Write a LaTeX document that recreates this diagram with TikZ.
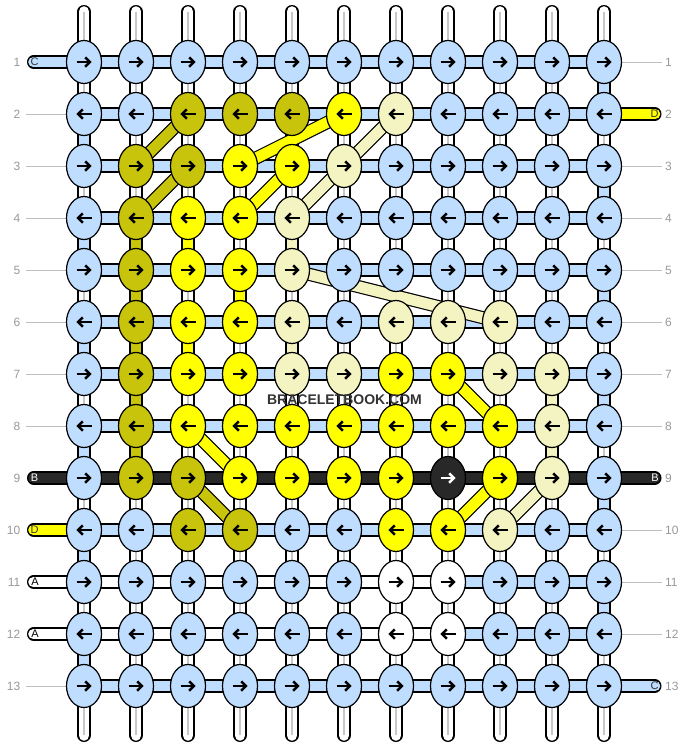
\documentclass[tikz,border=0pt]{standalone}
\usepackage{fontspec}
\setmainfont{Liberation Sans}
\usetikzlibrary{shapes.geometric}
\definecolor{kB}{RGB}{191,221,255}
\definecolor{kO}{RGB}{200,196,12}
\definecolor{kY}{RGB}{255,255,0}
\definecolor{kP}{RGB}{244,243,194}
\definecolor{kW}{RGB}{255,255,255}
\definecolor{kK}{RGB}{40,40,40}
\colorlet{aB}{black}\colorlet{aO}{black}\colorlet{aY}{black}
\colorlet{aP}{black}\colorlet{aW}{black}\colorlet{aK}{white}
\definecolor{lbl}{RGB}{153,153,153}
\definecolor{lline}{RGB}{190,190,190}
\definecolor{wline}{RGB}{200,200,200}
\definecolor{wmark}{RGB}{51,51,51}
\newcommand\band[3]{%
  \draw[line width=13.2pt,black] (#2) -- (#3);
  \draw[line width=10.8pt,#1] (#2) -- (#3);}
\newcommand\stub[3]{%
  \draw[line width=13.2pt,black,line cap=round] (#2) -- (#3);
  \draw[line width=10.8pt,#1,line cap=round] (#2) -- (#3);}
\begin{document}
\begin{tikzpicture}[x=1pt,y=-1pt,
  knot/.style={ellipse,draw=black,line width=1.2pt,minimum width=35pt,minimum height=43pt,inner sep=0pt},
  lab/.style={inner sep=0pt,text=lbl,font=\fontsize{12}{12}\selectfont},
  stubtxt/.style={inner sep=0pt,font=\fontsize{11}{11}\selectfont},
  arrowline/.style={line width=2.5pt}]
\useasboundingbox (0,0) rectangle (688,748);
\fill[white] (0,0) rectangle (688,748);
% coordinates
\foreach \ri in {1,...,13}{
  \foreach \ci in {1,...,11}{
    \coordinate (p-\ri-\ci) at ({84+52*(\ci-1)},{62+52*(\ri-1)});
  }
  \coordinate (gl-\ri) at (26,{62+52*(\ri-1)});
  \coordinate (gr-\ri) at (662,{62+52*(\ri-1)});
  \coordinate (sl-\ri) at (33.6,{62+52*(\ri-1)});
  \coordinate (sr-\ri) at (654.9,{62+52*(\ri-1)});
}
\foreach \ci in {1,...,11}{
  \coordinate (t-\ci) at ({84+52*(\ci-1)},11.6);
  \coordinate (b-\ci) at ({84+52*(\ci-1)},735.4);
}
% gray label lines
\foreach \ri in {2,3,4,5,6,7,8,13}{\draw[lline,line width=1pt] (gl-\ri) -- (p-\ri-1);}
\foreach \ri in {1,3,4,5,6,7,8,10,11,12}{\draw[lline,line width=1pt] (p-\ri-11) -- (gr-\ri);}
% warps
\foreach \ci in {1,...,11}{
  \draw[line cap=round,line width=13.2pt,black] (t-\ci) -- (b-\ci);
  \draw[line cap=round,line width=10.8pt,white] (t-\ci) -- (b-\ci);
  \draw[line width=1.5pt,wline] (t-\ci) -- (b-\ci);
}
% coloured vertical links
\foreach \cl/\ci/\ra/\rb in {kB/1/2/3,kB/1/4/5,kB/1/6/7,kB/1/8/9,kB/1/10/11,kB/1/12/13,
  kB/11/1/2,kB/11/3/4,kB/11/5/6,kB/11/7/8,kB/11/9/10,kB/11/11/12,
  kO/2/4/5,kO/2/5/6,kO/2/6/7,kO/2/7/8,kO/2/8/9,
  kY/3/4/5,kY/4/5/6,kY/3/6/7,
  kP/5/4/5,kP/5/6/7,kP/10/7/8,kP/10/8/9}{
  \band{\cl}{p-\ra-\ci}{p-\rb-\ci}
}
% horizontal links
\foreach \ri in {1,...,13}{\band{kB}{p-\ri-1}{p-\ri-11}}
\band{kK}{p-9-1}{p-9-11}
\band{kW}{p-11-1}{p-11-8}
\band{kW}{p-12-1}{p-12-8}
% stubs
\stub{kB}{sl-1}{p-1-1}
\stub{kK}{sl-9}{p-9-1}
\stub{kY}{sl-10}{p-10-1}
\stub{kW}{sl-11}{p-11-1}
\stub{kW}{sl-12}{p-12-1}
\stub{kY}{sr-2}{p-2-11}
\stub{kK}{sr-9}{p-9-11}
\stub{kB}{sr-13}{p-13-11}
\node[stubtxt,text=wmark] (s1) at (34.5,62) {C};
\node[stubtxt,text=white] (s9) at (34.5,478) {B};
\node[stubtxt,text=wmark] (s10) at (34.5,530) {D};
\node[stubtxt,text=black] (s11) at (35,582) {A};
\node[stubtxt,text=black] (s12) at (35,634) {A};
\node[stubtxt,text=wmark] (s2r) at (654.5,114) {D};
\node[stubtxt,text=white] (s9r) at (655,478) {B};
\node[stubtxt,text=wmark] (s13r) at (654.5,686) {C};
% diagonal strands
\foreach \cl/\pa/\pb in {kO/p-2-3/p-3-2,kO/p-3-3/p-4-2,kO/p-9-3/p-10-4,
  kY/p-2-6/p-3-4,kY/p-3-5/p-4-4,kY/p-8-3/p-9-4,kY/p-7-8/p-8-9,kY/p-9-9/p-10-8,
  kP/p-2-7/p-3-6,kP/p-3-6/p-4-5,kP/p-5-5/p-6-9,kP/p-9-10/p-10-9}{
  \band{\cl}{\pa}{\pb}
}
% knots
\foreach \ri/\row in {
  1/{B,B,B,B,B,B,B,B,B,B,B},
  2/{B,B,O,O,O,Y,P,B,B,B,B},
  3/{B,O,O,Y,Y,P,B,B,B,B,B},
  4/{B,O,Y,Y,P,B,B,B,B,B,B},
  5/{B,O,Y,Y,P,B,B,B,B,B,B},
  6/{B,O,Y,Y,P,B,P,P,P,B,B},
  7/{B,O,Y,Y,P,P,Y,Y,P,P,B},
  8/{B,O,Y,Y,Y,Y,Y,Y,Y,P,B},
  9/{B,O,O,Y,Y,Y,Y,K,Y,P,B},
  10/{B,B,O,O,B,B,Y,Y,P,B,B},
  11/{B,B,B,B,B,B,W,W,B,B,B},
  12/{B,B,B,B,B,B,W,W,B,B,B},
  13/{B,B,B,B,B,B,B,B,B,B,B}}{
  \pgfmathsetmacro\dir{1-2*mod(\ri+1,2)}
  \foreach \kc [count=\ci] in \row {
    \node[knot,fill=k\kc] (k-\ri-\ci) at (p-\ri-\ci) {};
    \begin{scope}[shift={(p-\ri-\ci)},xscale=\dir]
      \draw[arrowline,draw=a\kc] (-7.5,0) -- (5,0);
      \draw[arrowline,draw=a\kc,miter limit=10] (1.2,-4.7) -- (5.9,0) -- (1.2,4.7);
    \end{scope}
  }
}
% watermark
\node[inner sep=0pt,text=wmark,font=\bfseries\fontsize{14}{14}\selectfont] (wm) at (344.5,399.5) {BRACELETBOOK.COM};
% row labels
\foreach \ri in {1,...,13}{
  \node[lab,anchor=east] (ll-\ri) at (20.5,{62+52*(\ri-1)}) {\ri};
  \node[lab,anchor=west] (lr-\ri) at (665,{62+52*(\ri-1)}) {\ri};
}
\end{tikzpicture}
\end{document}
